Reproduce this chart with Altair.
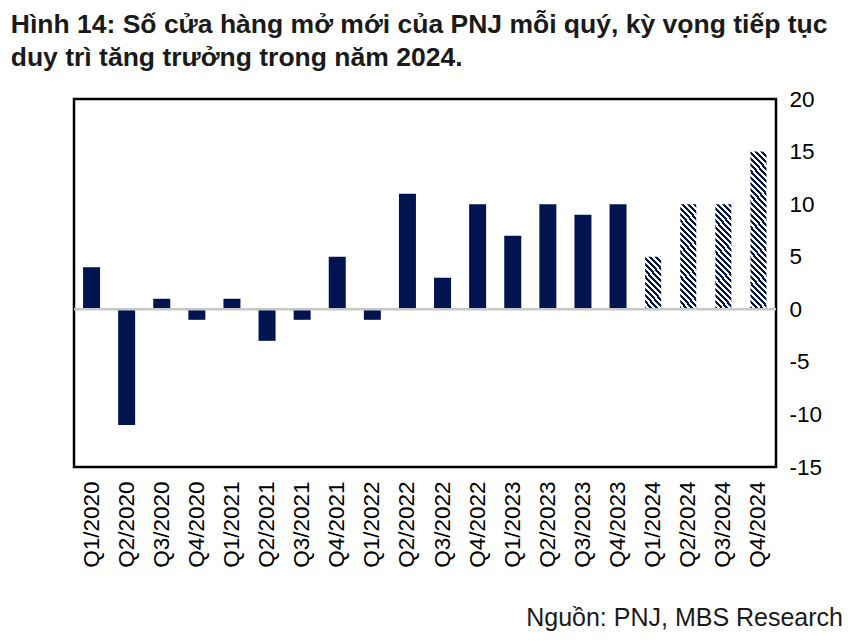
import math
import altair as alt
import pandas as pd

quarters = ["Q1/2020", "Q2/2020", "Q3/2020", "Q4/2020",
            "Q1/2021", "Q2/2021", "Q3/2021", "Q4/2021",
            "Q1/2022", "Q2/2022", "Q3/2022", "Q4/2022",
            "Q1/2023", "Q2/2023", "Q3/2023", "Q4/2023",
            "Q1/2024", "Q2/2024", "Q3/2024", "Q4/2024"]
new_stores = [4, -11, 1, -1, 1, -3, -1, 5, -1, 11, 3, 10, 7, 10, 9, 10, 5, 10, 10, 15]
is_forecast = [False] * 16 + [True] * 4
y_ticks = [-15, -10, -5, 0, 5, 10, 15, 20]

title_lines = ["Hình 14: Số cửa hàng mở mới của PNJ mỗi quý, kỳ vọng tiếp tục",
               "duy trì tăng trưởng trong năm 2024."]
source_text = "Nguồn: PNJ, MBS Research"

df = pd.DataFrame({"quarter": quarters, "value": new_stores, "forecast": is_forecast})

FONT = "Liberation Sans"
W, H = 702, 368
Y_MIN, Y_MAX = -15, 20
BAR = 17
NAVY = "#011450"
PERIOD = 4.4
DUTY = 0.5
LABEL_SIZE = 22.5


def hatch(value):
    h = abs(value) * H / (Y_MAX - Y_MIN)
    w = BAR
    a = w * (w + h) / (w * w + h * h)
    n = (w + h) / (math.sqrt(2) * PERIOD)
    stops = []
    k = 0
    while k < n:
        o0 = k / n
        o1 = min((k + DUTY) / n, 1.0)
        o2 = min((k + 1) / n, 1.0)
        stops += [alt.GradientStop(offset=o0, color=NAVY),
                  alt.GradientStop(offset=o1, color=NAVY),
                  alt.GradientStop(offset=o1, color="white"),
                  alt.GradientStop(offset=o2, color="white")]
        k += 1
    return alt.LinearGradient(gradient="linear", stops=stops,
                              x1=0, y1=1, x2=a, y2=1 - a * h / w)


x_enc = alt.X("quarter:N", sort=quarters,
              scale=alt.Scale(domain=quarters, paddingInner=0, paddingOuter=0),
              axis=alt.Axis(title=None, labelAngle=270, labelFontSize=LABEL_SIZE, labelFont=FONT,
                            labelColor="black", labelPadding=14, ticks=False, domain=False,
                            labelAlign="right", labelBaseline="middle"))
y_enc = alt.Y("value:Q",
              scale=alt.Scale(domain=[Y_MIN, Y_MAX], nice=False, zero=False),
              axis=alt.Axis(orient="right", values=y_ticks, title=None, grid=False,
                            ticks=False, domain=False, labelAlign="left", labelPadding=13,
                            labelExpr="'' + datum.value",
                            labelFontSize=LABEL_SIZE, labelFont=FONT, labelColor="black"))

base = alt.Chart(df)

actual = base.transform_filter("!datum.forecast").mark_bar(size=BAR, color=NAVY).encode(
    x=x_enc, y=y_enc)

layers = [actual]
for q, v, f in zip(quarters, new_stores, is_forecast):
    if f:
        layers.append(
            base.transform_filter(alt.datum.quarter == q)
            .mark_bar(size=BAR - 1, fill=hatch(v))
            .encode(x=x_enc, y=y_enc)
        )

zero_rule = alt.Chart(pd.DataFrame({"z": [0]})).mark_rule(
    color="#c8c8c8", strokeWidth=2.5).encode(y=alt.Y("z:Q"))
layers.append(zero_rule)

source = alt.Chart(pd.DataFrame({"t": [source_text]})).mark_text(
    align="right", baseline="alphabetic", fontSize=25, font=FONT, color="#1a1a1a").encode(
    text="t:N", x=alt.value(769), y=alt.value(527))
layers.append(source)

chart = alt.layer(*layers).properties(
    width=W, height=H,
    autosize="none",
    padding={"left": 66, "top": 91, "right": 76, "bottom": 166},
    title=alt.TitleParams(text=title_lines, anchor="start", fontSize=26.5, font=FONT,
                          fontWeight="bold", color="#1a1a1a", dx=-62, offset=17,
                          lineHeight=33),
).configure(background="white").configure_view(stroke="black", strokeWidth=2.5)

chart.save("out.html", embed_options={"renderer": "svg", "actions": False})
